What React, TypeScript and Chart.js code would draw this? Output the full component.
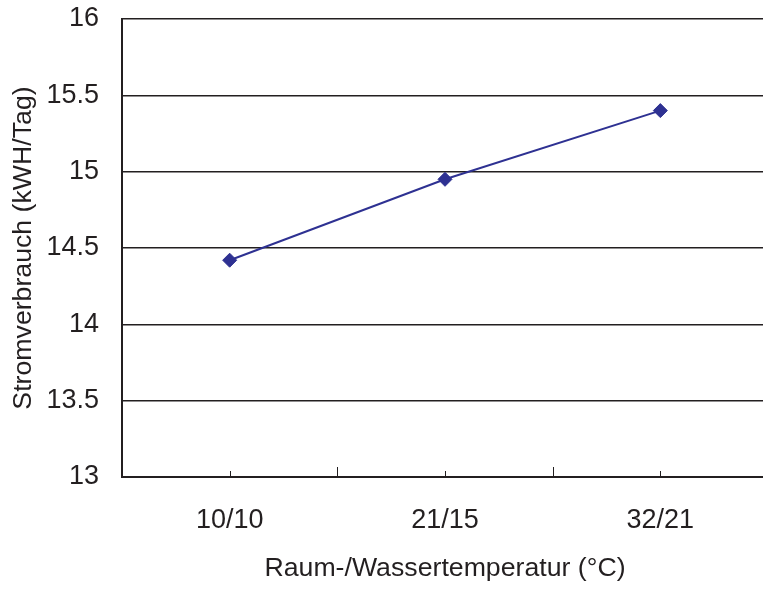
import React, { useEffect, useRef } from "react";
import { Chart, registerables } from "chart.js";

Chart.register(...registerables);

const categories = ["10/10", "21/15", "32/21"];
const consumption = [14.42, 14.95, 15.4];
const yMin = 13;
const yMax = 16;
const yStep = 0.5;
const xTitle = "Raum-/Wassertemperatur (°C)";
const yTitle = "Stromverbrauch (kWH/Tag)";

const FONT = "'Liberation Sans', Arial, sans-serif";
const TEXT = "#231f20";

const innerTicks = {
  id: "innerTicks",
  afterDatasetsDraw(chart: any) {
    const x = chart.scales.x;
    const ctx = chart.ctx;
    const bottom = chart.chartArea.bottom;
    ctx.save();
    ctx.strokeStyle = "#231f20";
    ctx.lineWidth = 1;
    const n = categories.length;
    for (let i = 0; i < n; i++) {
      const px = Math.round(x.getPixelForValue(i)) + 0.5;
      ctx.beginPath();
      ctx.moveTo(px, bottom);
      ctx.lineTo(px, bottom - 6);
      ctx.stroke();
    }
    for (let i = 0; i <= n; i++) {
      const px = Math.round(x.getPixelForValue(i - 0.5)) + 0.5;
      ctx.beginPath();
      ctx.moveTo(px, bottom);
      ctx.lineTo(px, bottom - 10);
      ctx.stroke();
    }
    ctx.restore();
  },
};

const whiteBg = {
  id: "whiteBg",
  beforeDraw(chart: any) {
    const ctx = chart.ctx;
    ctx.save();
    ctx.fillStyle = "#ffffff";
    ctx.fillRect(0, 0, chart.width, chart.height);
    ctx.restore();
  },
};

export default function App() {
  const ref = useRef<HTMLCanvasElement | null>(null);
  useEffect(() => {
    if (!ref.current) return;
    const chart = new Chart(ref.current, {
      type: "line",
      data: {
        labels: categories,
        datasets: [
          {
            data: consumption,
            borderColor: "#2e3192",
            backgroundColor: "#2e3192",
            borderWidth: 2,
            pointStyle: "rectRot",
            pointRadius: 7,
            pointBorderWidth: 1,
            pointBorderColor: "#2e3192",
            pointBackgroundColor: "#2e3192",
            tension: 0,
            clip: false,
          },
        ],
      },
      options: {
        responsive: false,
        animation: false,
        devicePixelRatio: 1,
        layout: { autoPadding: false, padding: { top: 19, left: 0, right: 0, bottom: 0 } },
        plugins: {
          legend: { display: false },
          tooltip: { enabled: false },
        },
        scales: {
          x: {
            type: "category",
            offset: true,
            grid: { display: false, drawTicks: false },
            border: { display: true, color: "#231f20", width: 2 },
            ticks: {
              padding: 27.5,
              color: TEXT,
              font: { family: FONT, size: 27 },
            },
            title: {
              display: true,
              text: xTitle,
              color: TEXT,
              font: { family: FONT, size: 26.7 },
              padding: { top: 4, bottom: 4 },
            },
            afterFit(scale: any) {
              scale.height = 112;
              scale.paddingLeft = 0;
              scale.paddingRight = 0;
            },
          },
          y: {
            min: yMin,
            max: yMax,
            ticks: {
              stepSize: yStep,
              padding: 23,
              color: TEXT,
              font: { family: FONT, size: 27 },
              callback: (v: any) => String(Number(v)),
            },
            grid: { color: "#231f20", lineWidth: 1.5, drawTicks: false },
            border: { display: true, color: "#231f20", width: 2 },
            title: {
              display: true,
              text: yTitle,
              color: TEXT,
              font: { family: FONT, size: 26.7 },
              padding: { top: 8, bottom: 4 },
            },
            afterFit(scale: any) {
              scale.width = 122;
              scale.paddingTop = 0;
              scale.paddingBottom = 0;
            },
          },
        },
      },
      plugins: [whiteBg, innerTicks],
    });
    return () => chart.destroy();
  }, []);
  return (
    <div
      style={{
        position: "fixed",
        left: 0,
        top: 0,
        width: 763,
        height: 589,
        overflow: "hidden",
        background: "#fff",
      }}
    >
      <canvas ref={ref} width={768} height={589} style={{ display: "block" }} />
    </div>
  );
}
